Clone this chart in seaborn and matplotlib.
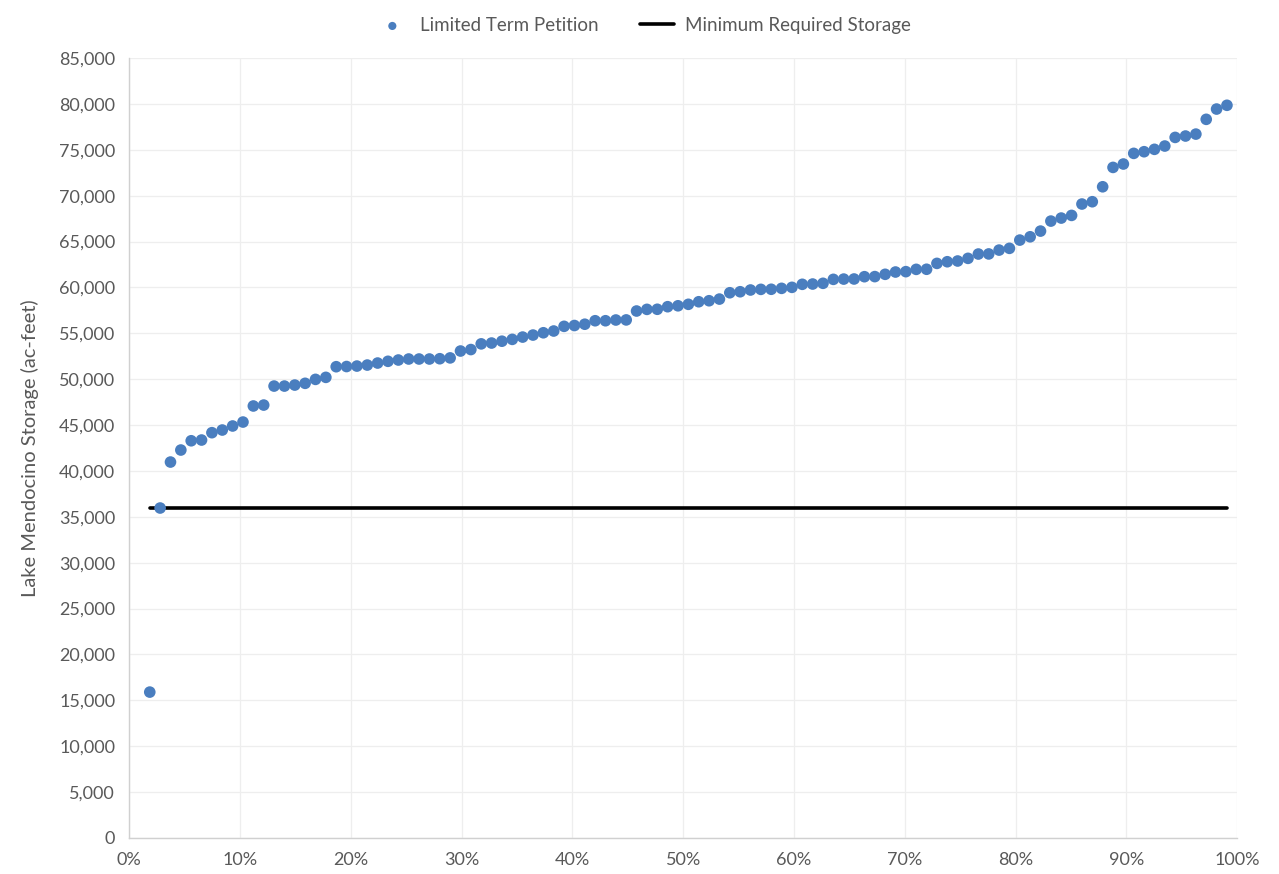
import numpy as np
import pandas as pd
import matplotlib
matplotlib.use("Agg")
import matplotlib.pyplot as plt
import matplotlib.ticker as mticker
import seaborn as sns

# Lake Mendocino storage (ac-feet), sorted ascending
storage = [
    15900, 35960, 40970, 42280, 43290, 43370, 44170, 44460, 44900, 45330,
    47080, 47180, 49250, 49250, 49360, 49550, 49980, 50200, 51360, 51380,
    51430, 51540, 51760, 51950, 52090, 52200, 52200, 52200, 52230, 52320,
    53070, 53230, 53850, 53940, 54140, 54340, 54590, 54810, 55060, 55250,
    55760, 55850, 55990, 56370, 56370, 56450, 56460, 57430, 57610, 57620,
    57900, 58000, 58160, 58440, 58550, 58730, 59420, 59530, 59720, 59790,
    59800, 59900, 60010, 60340, 60370, 60450, 60880, 60910, 60920, 61170,
    61180, 61430, 61680, 61720, 61970, 61980, 62620, 62800, 62880, 63170,
    63640, 63650, 64070, 64260, 65160, 65520, 66140, 67230, 67560, 67850,
    69090, 69340, 70970, 73080, 73450, 74610, 74790, 75050, 75410, 76350,
    76500, 76710, 78320, 79440, 79850,
]
min_storage = 36000

series_names = ["Limited Term Petition", "Minimum Required Storage"]

n = len(storage)
rank = np.arange(2, n + 2)
exceedance = rank / (n + 2)

df = pd.DataFrame({"exceedance": exceedance, "storage": storage})
df["minimum"] = min_storage

sns.set_style("white")
plt.rcParams["font.family"] = ["Lato", "DejaVu Sans"]

fig = plt.figure(figsize=(12.79, 8.74), dpi=100)
ax = fig.add_axes([0.1009, 0.0412, 0.8665, 0.8924])

sns.lineplot(data=df, x="exceedance", y="minimum", ax=ax, color="black",
             linewidth=2.6, label=series_names[1], zorder=2)
sns.scatterplot(data=df, x="exceedance", y="storage", ax=ax, color="#4A7EBF",
                s=70, edgecolor="none", label=series_names[0], zorder=3)

ax.set_xlim(0, 1)
ax.set_ylim(0, 85000)
ax.xaxis.set_major_locator(mticker.MultipleLocator(0.1))
ax.yaxis.set_major_locator(mticker.MultipleLocator(5000))
ax.xaxis.set_major_formatter(mticker.PercentFormatter(1.0, decimals=0))
ax.yaxis.set_major_formatter(mticker.FuncFormatter(lambda v, p: f"{v:,.0f}"))

ax.grid(True, color="#eeeeee", linewidth=0.9)
ax.set_axisbelow(True)
for side in ["top", "right"]:
    ax.spines[side].set_visible(False)
for side in ["left", "bottom"]:
    ax.spines[side].set_color("#d0d0d0")
    ax.spines[side].set_linewidth(1.0)

ax.tick_params(axis="both", length=0, labelsize=13, labelcolor="#595959", pad=10)
ax.set_xlabel("")
ax.set_ylabel("Lake Mendocino Storage (ac-feet)", fontsize=14.5, color="#595959", labelpad=14)

handles, labels = ax.get_legend_handles_labels()
order = [labels.index(series_names[0]), labels.index(series_names[1])]
ax.get_legend().remove()
fig.legend([handles[i] for i in order], [labels[i] for i in order],
           loc="upper center", bbox_to_anchor=(0.503, 1.0), ncol=2, frameon=False,
           fontsize=13.5, labelcolor="#595959", handlelength=1.8, handletextpad=0.6,
           columnspacing=2.2, markerscale=0.7)

fig.savefig("out.png", dpi=100)
